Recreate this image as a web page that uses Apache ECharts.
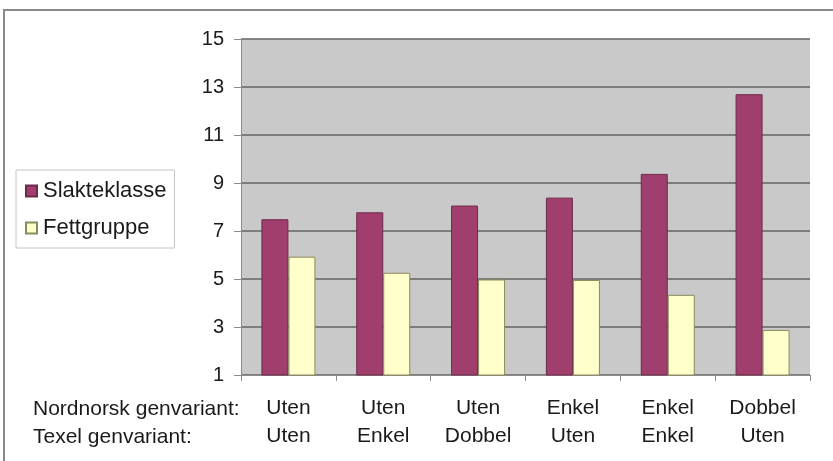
<!DOCTYPE html>
<html>
<head>
<meta charset="utf-8">
<title>Slakteklasse og fettgruppe</title>
<script src="https://cdn.jsdelivr.net/npm/echarts@6/dist/echarts.min.js"></script>
<style>
    html, body { margin: 0; padding: 0; background: #fff; }
    #chart-box { width: 833px; height: 461px; }
</style>
</head>
<body>
<div id="chart-box"></div>
<script>
    // kategorier: nordnorsk / texel genvariant
    var Nordnorsk = ['Uten', 'Uten', 'Uten', 'Enkel', 'Enkel', 'Dobbel'];
    var Texel = ['Uten', 'Enkel', 'Dobbel', 'Uten', 'Enkel', 'Uten'];
    var RowLabels = ['Nordnorsk genvariant:', 'Texel genvariant:'];

    // verdier lest av figuren
    var Slakteklasse = [7.49, 7.78, 8.06, 8.39, 9.38, 12.7];
    var Fettgruppe = [5.93, 5.26, 4.98, 4.96, 4.34, 2.88];

    var yMin = 1, yMax = 15, yStep = 2;

    var Categories = Nordnorsk.map(function (n, i) { return n + '\n' + Texel[i]; });
    var Font = '"Liberation Sans", Arial, sans-serif';

    var chart = echarts.init(document.getElementById('chart-box'));
    chart.setOption({
        animation: false,
        textStyle: { fontFamily: Font },
        grid: {
            left: 241,
            right: 23,
            top: 39,
            bottom: 86,
            show: true,
            backgroundColor: '#c9c9c9',
            borderWidth: 0
        },
        legend: {
            orient: 'vertical',
            left: 16,
            top: 170,
            padding: [10, 8, 9, 9],
            itemWidth: 11,
            itemHeight: 11,
            itemGap: 15,
            borderColor: '#c4c4c4',
            borderWidth: 1,
            icon: 'rect',
            textStyle: { fontSize: 22, color: '#1a1a1a', fontFamily: Font, padding: [0, 0, 0, 1] },
            data: ['Slakteklasse', 'Fettgruppe']
        },
        xAxis: {
            type: 'category',
            data: Categories,
            axisLine: { lineStyle: { color: '#8c8c8c', width: 1 } },
            axisTick: { show: true, length: 6, lineStyle: { color: '#8c8c8c' } },
            axisLabel: {
                fontSize: 21,
                lineHeight: 28,
                color: '#1a1a1a',
                margin: 19,
                interval: 0
            },
            splitLine: { show: false }
        },
        yAxis: {
            type: 'value',
            min: yMin,
            max: yMax,
            interval: yStep,
            axisLine: { show: true, lineStyle: { color: '#8c8c8c', width: 1 } },
            axisTick: { show: true, length: 7, lineStyle: { color: '#8c8c8c' } },
            axisLabel: { fontSize: 20, color: '#1a1a1a', margin: 17 },
            splitLine: { lineStyle: { color: '#636363', width: 1.5 } }
        },
        series: [{
            name: 'Slakteklasse',
            type: 'bar',
            barWidth: 27,
            barGap: '0%',
            itemStyle: { color: '#a03e6d', borderColor: '#6e2a4a', borderWidth: 1 },
            data: Slakteklasse
        }, {
            name: 'Fettgruppe',
            type: 'bar',
            barWidth: 27,
            barGap: '0%',
            itemStyle: { color: '#ffffcc', borderColor: '#8a8a5a', borderWidth: 1 },
            data: Fettgruppe
        }],
        graphic: [{
            // ramme rundt hele figuren
            type: 'rect',
            shape: { x: 4, y: 10, width: 840, height: 470 },
            style: { fill: 'none', stroke: '#8a8a8a', lineWidth: 2 },
            silent: true
        }, {
            type: 'text',
            left: 33,
            top: 395,
            style: {
                text: RowLabels.join('\n'),
                font: '21px ' + Font,
                lineHeight: 28,
                fill: '#1a1a1a'
            }
        }]
    });
</script>
</body>
</html>
